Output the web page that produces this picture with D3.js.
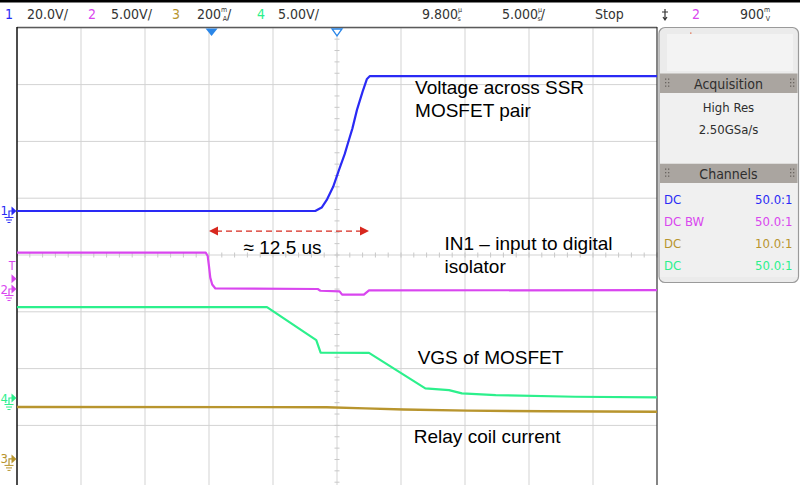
<!DOCTYPE html>
<html><head><meta charset="utf-8">
<script src="https://cdn.jsdelivr.net/npm/d3@7"></script>
<style>body{margin:0;background:#fff}svg{display:block}</style>
</head><body>
<svg id="c" width="800" height="485"></svg>
<script>
// ---------- data ----------
const timeRange = [-15.2, 34.8];          // µs (trigger at 0, delay 9.8 µs, 5 µs/div)
const vDivs = [-4, -3, -2, -1, 0, 1, 2, 3, 4];

// Channel settings: name, scale per div, ground offset (div), colour
const chNames   = ["1", "2", "3", "4"];
const chPerDiv  = [20, 5, 200, 5];        // V/div, V/div, mA/div, V/div
const chOffset  = [0.775, -0.599, -3.59, -2.518];
const chColors  = ["#2a2af5", "#d946ef", "#b8952e", "#2cf08c"];
const chScaleNum  = ["20.0", "5.00", "200", "5.00"];
const chScaleUnit = ["V/", "V/", "mA", "V/"];
const trigLevel = 0.9;                    // V on ch2

// Ch1: Voltage across SSR MOSFET pair (V)
const ch1T = [-15.2, 8.1, 8.6, 9.0, 9.5, 9.95, 10.4, 10.73, 11.0, 11.36, 11.8, 12.14, 12.37, 34.8];
const ch1V = [0, 0, 1.2, 3.9, 8.5, 14.4, 20, 25, 29, 35.6, 42, 46.5, 47.5, 47.5];
// Ch2: IN1 input to digital isolator (V)
const ch2T = [-15.2, -0.45, -0.3, -0.2, -0.1, 0.05, 0.3, 8.3, 8.5, 10.0, 10.2, 11.9, 12.3, 34.8];
const ch2V = [3.2, 3.2, 2.9, 2.0, 1.0, 0.4, 0.05, 0.0, -0.15, -0.2, -0.5, -0.5, -0.12, -0.1];
// Ch3: Relay coil current (mA)
const ch3T = [-15.2, 9.0, 12.0, 15.0, 20.0, 26.0, 34.8];
const ch3V = [183, 182, 178, 174, 170, 168, 166];
// Ch4: VGS of MOSFET (V)
const ch4T = [-15.2, 4.33, 8.18, 8.52, 12.3, 16.7, 18.55, 19.56, 22.2, 28.4, 34.8];
const ch4V = [8.0, 8.0, 5.1, 4.0, 3.98, 0.85, 0.7, 0.41, 0.26, 0.11, 0.06];

const annotations = [
  {t: 15.9, ch: 0, v: 41.2, lines: ["Voltage across SSR", "MOSFET pair"]},
  {t: 18.2, ch: 1, v: 3.45, lines: ["IN1 \u2013 input to digital", "isolator"]},
  {t: 16.1, ch: 3, v: 3.0, lines: ["VGS of MOSFET"]},
  {t: 15.8, ch: 2, v: 56, lines: ["Relay coil current"]}
];
const deltaLabel = "\u2248 12.5 us";
const deltaT = [-0.2, 12.3];

const hdrDelay = "9.800", hdrTimebase = "5.000", hdrState = "Stop", hdrTrigLevel = "900";
const acqTitle = "Acquisition", acqLines = ["High Res", "2.50GSa/s"];
const chanTitle = "Channels";
const chanCoupling = ["DC", "DC BW", "DC", "DC"];
const chanProbe = ["50.0:1", "50.0:1", "10.0:1", "50.0:1"];
const chanOrder = [0, 1, 2, 3];

// ---------- drawing ----------
const svg = d3.select("#c");
const L = 17, R = 657, T = 27.8, B = 482.2;
const x = d3.scaleLinear().domain(timeRange).range([L, R]);
const div = d3.scaleLinear().domain([-4, 4]).range([B, T]);
const chY = chPerDiv.map((p, i) => v => div(chOffset[i] + v / p));
const condensed = "'DejaVu Sans Condensed','Liberation Sans Narrow',sans-serif";
const arial = "'Liberation Sans',Arial,sans-serif";

svg.append("rect").attr("width", 800).attr("height", 485).attr("fill", "#fff");
svg.append("rect").attr("x", 0).attr("y", 0).attr("width", 800).attr("height", 2.5).attr("fill", "#000");

// grid
const gx = d3.range(0, 11).map(i => timeRange[0] + i * 5);
const g = svg.append("g");
g.selectAll("line.v").data(gx.slice(1, 10)).join("line")
  .attr("x1", d => x(d)).attr("x2", d => x(d)).attr("y1", T).attr("y2", 485)
  .attr("stroke", "#d3d3d3").attr("stroke-width", 1);
g.selectAll("line.h").data(vDivs.slice(1)).join("line")
  .attr("x1", L).attr("x2", R).attr("y1", d => div(d)).attr("y2", d => div(d))
  .attr("stroke", "#d3d3d3").attr("stroke-width", 1);
// minor ticks on the centre lines
const cx = x(9.8), cy = div(0);
g.selectAll("line.mt").data(d3.range(-20, 21).map(i => i * 0.2)).join("line")
  .attr("x1", cx - 2.5).attr("x2", cx + 2.5).attr("y1", d => div(d)).attr("y2", d => div(d))
  .attr("stroke", "#c8c8c8");
g.selectAll("line.mtx").data(d3.range(0, 51).map(i => timeRange[0] + i)).join("line")
  .attr("y1", cy - 2.5).attr("y2", cy + 2.5).attr("x1", d => x(d)).attr("x2", d => x(d))
  .attr("stroke", "#c8c8c8");

// borders
svg.append("line").attr("x1", L).attr("x2", R).attr("y1", 27.5).attr("y2", 27.5).attr("stroke", "#5a5a5a").attr("stroke-width", 1.5);
svg.append("line").attr("x1", L).attr("x2", L).attr("y1", 27).attr("y2", 485).attr("stroke", "#111").attr("stroke-width", 1.5);
svg.append("line").attr("x1", R).attr("x2", R).attr("y1", 27).attr("y2", 485).attr("stroke", "#333").attr("stroke-width", 1.2);

// traces
const traces = [[ch3T, ch3V, 2], [ch4T, ch4V, 3], [ch2T, ch2V, 1], [ch1T, ch1V, 0]];
traces.forEach(([ts, vs, ci]) => {
  const line = d3.line().x(d => x(d[0])).y(d => chY[ci](d[1]));
  svg.append("path").datum(ts.map((t, i) => [t, vs[i]]))
    .attr("d", line).attr("fill", "none").attr("stroke", chColors[ci])
    .attr("stroke-width", ci === 2 ? 2.4 : 2.2).attr("stroke-linejoin", "round");
});

// trigger markers at top
const trigBlue = "#2a86e8";
svg.append("path").attr("d", `M${x(0) - 6},28.5 L${x(0) + 6},28.5 L${x(0)},36 Z`).attr("fill", trigBlue);
svg.append("path").attr("d", `M${cx - 5},29 L${cx + 5},29 L${cx},36 Z`).attr("fill", "#fff").attr("stroke", trigBlue).attr("stroke-width", 1.3);

// channel ground markers on left
chNames.forEach((n, i) => {
  const y0 = chY[i](0), c = chColors[i];
  const m = svg.append("g");
  m.append("text").attr("x", 0.5).attr("y", y0 + 4.5).text(n)
    .attr("font-family", condensed).attr("font-size", 13).attr("fill", c);
  m.append("path").attr("d", `M9,${y0 + 6} L9,${y0} L12,${y0}`).attr("stroke", c).attr("fill", "none").attr("stroke-width", 1.2);
  m.append("path").attr("d", `M11.5,${y0 - 4.5} L16.5,${y0} L11.5,${y0 + 4.5} Z`).attr("fill", c);
  m.append("path").attr("d", `M4.5,${y0 + 6.5} L13.5,${y0 + 6.5} M6,${y0 + 9} L12,${y0 + 9} M7.5,${y0 + 11.5} L10.5,${y0 + 11.5}`)
    .attr("stroke", c).attr("stroke-width", 1);
});
// trigger level marker for ch2
const tl = chY[1](trigLevel);
svg.append("text").attr("x", 12).attr("y", chY[1](1.7)).text("T")
  .attr("font-family", condensed).attr("font-size", 12).attr("fill", chColors[1]).attr("text-anchor", "middle");
svg.append("path").attr("d", `M11.5,${tl - 4.5} L16.5,${tl} L11.5,${tl + 4.5} Z`).attr("fill", chColors[1]);

// header bar
const hdr = svg.append("g").attr("font-family", condensed).attr("font-size", 14).attr("fill", "#333");
function hText(xp, main, top, bot, tail, color) {
  const t = hdr.append("text").attr("x", xp).attr("y", 19).attr("fill", color || "#333");
  t.append("tspan").text(main);
  if (top) {
    t.append("tspan").attr("font-size", 7).attr("dy", -7.5).text(top);
    t.append("tspan").attr("font-size", 7).attr("dx", -4.5).attr("dy", 9).text(bot);
    if (tail) t.append("tspan").attr("dy", -1.5).text(tail);
  }
}
const hdrX = [[5, 27], [88, 111], [172, 197], [257, 278]];
chNames.forEach((n, i) => {
  hText(hdrX[i][0], n, null, null, null, chColors[i]);
  if (chScaleUnit[i] === "mA") hText(hdrX[i][1], chScaleNum[i], "m", "A", "/");
  else hText(hdrX[i][1], chScaleNum[i] + chScaleUnit[i]);
});
hText(422, hdrDelay, "\u00b5", "s");
hText(502, hdrTimebase, "\u00b5", "s", "/");
hText(595, hdrState);
hText(692, "2", null, null, null, chColors[1]);
hText(740, hdrTrigLevel, "m", "V");
// trigger edge icon
svg.append("path").attr("d", "M665,9 L665,20 M662,12 L668,12 M663,17 L665,20 L667,17").attr("stroke", "#333").attr("fill", "none").attr("stroke-width", 1.2);

// right panel
const P = svg.append("g");
P.append("rect").attr("x", 659).attr("y", 27.5).attr("width", 139.5).attr("height", 255).attr("rx", 6)
  .attr("fill", "#ebebeb").attr("stroke", "#9a9a9a").attr("stroke-width", 1.2);
P.append("rect").attr("x", 667).attr("y", 34).attr("width", 126).attr("height", 37).attr("fill", "#f3f3f3");
P.append("rect").attr("x", 690).attr("y", 32.5).attr("width", 1.5).attr("height", 1.2).attr("fill", "#e07050");
function header(y, label) {
  P.append("rect").attr("x", 660).attr("y", y).attr("width", 137.5).attr("height", 19.5).attr("fill", "#aaa5a0");
  P.append("text").attr("x", 728.5).attr("y", y + 15).attr("text-anchor", "middle").text(label)
    .attr("font-family", condensed).attr("font-size", 14).attr("fill", "#2e2e2e");
  [665, 790].forEach(gx0 => {
    [0, 1].forEach(cc => [0, 1, 2].forEach(rr =>
      P.append("rect").attr("x", gx0 + cc * 3).attr("y", y + 5 + rr * 3.5).attr("width", 1.3).attr("height", 1.3).attr("fill", "#6a6560")));
  });
}
header(73.5, acqTitle);
header(163.5, chanTitle);
P.append("rect").attr("x", 660).attr("y", 93).attr("width", 137.5).attr("height", 70.5).attr("fill", "#f0f0f0");
P.append("rect").attr("x", 660).attr("y", 183).attr("width", 137.5).attr("height", 94).attr("fill", "#f0f0f0");
acqLines.forEach((t, i) => P.append("text").attr("x", 728.5).attr("y", 112 + i * 22).attr("text-anchor", "middle").text(t)
  .attr("font-family", condensed).attr("font-size", 13).attr("fill", "#2e2e2e"));
chanOrder.forEach((ci, i) => {
  const yy = 203.5 + i * 22.3;
  P.append("text").attr("x", 664).attr("y", yy).text(chanCoupling[ci]).attr("font-family", condensed).attr("font-size", 13).attr("fill", chColors[ci]);
  P.append("text").attr("x", 792.5).attr("y", yy).attr("text-anchor", "end").text(chanProbe[ci]).attr("font-family", condensed).attr("font-size", 13).attr("fill", chColors[ci]);
});

// delta-t arrow
const ay = chY[1](5.1);
const red = "#d8281e";
svg.append("line").attr("x1", x(deltaT[0]) + 7).attr("x2", x(deltaT[1]) - 7).attr("y1", ay).attr("y2", ay)
  .attr("stroke", red).attr("stroke-width", 1.4).attr("stroke-dasharray", "6,4");
svg.append("path").attr("d", `M${x(deltaT[0])},${ay} L${x(deltaT[0]) + 9},${ay - 4.5} L${x(deltaT[0]) + 9},${ay + 4.5} Z`).attr("fill", red);
svg.append("path").attr("d", `M${x(deltaT[1])},${ay} L${x(deltaT[1]) - 9},${ay - 4.5} L${x(deltaT[1]) - 9},${ay + 4.5} Z`).attr("fill", red);
svg.append("text").attr("x", x(2.5)).attr("y", chY[1](3.05)).text(deltaLabel)
  .attr("font-family", arial).attr("font-size", 19).attr("fill", "#000");

// annotations
annotations.forEach(a => {
  a.lines.forEach((t, i) => svg.append("text").attr("x", x(a.t)).attr("y", chY[a.ch](a.v) + i * 23).text(t)
    .attr("font-family", arial).attr("font-size", 19).attr("fill", "#000"));
});
</script>
</body></html>
